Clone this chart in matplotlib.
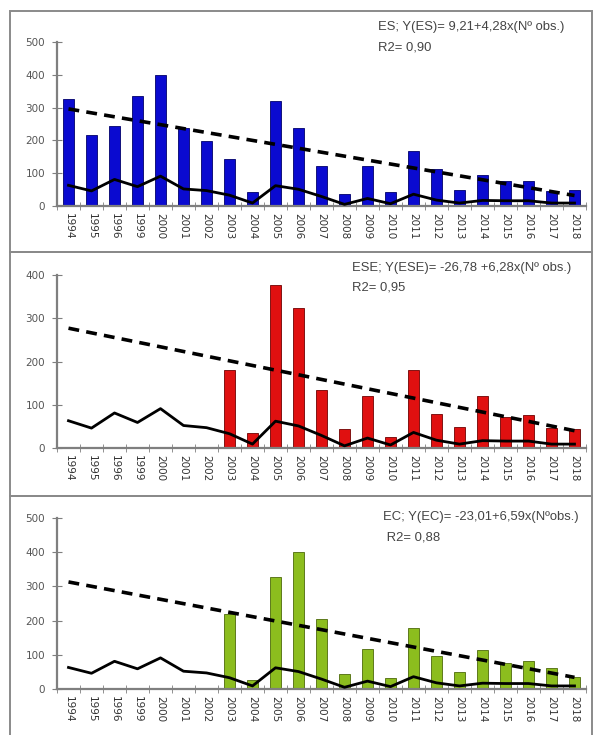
import matplotlib
matplotlib.use("Agg")
import matplotlib.pyplot as plt
from matplotlib.patches import Rectangle
import numpy as np

# data
years = ["1994", "1995", "1996", "1999", "2000", "2001", "2002", "2003",
         "2004", "2005", "2006", "2007", "2008", "2009", "2010", "2011",
         "2012", "2013", "2014", "2015", "2016", "2017", "2018"]

es = [326, 215, 245, 334, 398, 237, 197, 142, 44, 321, 239, 123, 37, 123,
      42, 167, 113, 50, 95, 76, 76, 47, 49]
ese = [0, 0, 0, 0, 0, 0, 0, 181, 35, 376, 324, 135, 45, 120, 26, 180, 79,
       49, 120, 71, 76, 47, 44]
ec = [0, 0, 0, 0, 0, 0, 0, 219, 27, 327, 401, 204, 43, 118, 32, 179, 96,
      49, 115, 76, 81, 61, 36]

# black reference line (same in the three charts)
ref_line = [63, 46, 81, 59, 91, 52, 47, 33, 9, 62, 51, 29, 5, 23, 7, 36, 18,
            9, 17, 16, 16, 9, 9]

# dashed trend, value at first and last year
es_trend = [296, 32]
ese_trend = [277, 40]
ec_trend = [313, 34]

es_text = ["ES; Y(ES)= 9,21+4,28x(Nº obs.)", "R2= 0,90"]
ese_text = ["ESE; Y(ESE)= -26,78 +6,28x(Nº obs.)", "R2= 0,95"]
ec_text = ["EC; Y(EC)= -23,01+6,59x(Nºobs.)", " R2= 0,88"]

W, H = 598, 735
fig = plt.figure(figsize=(W / 100, H / 100), dpi=100)


def fx(px):
    return px / W


def fy(py):
    return 1 - py / H


# panel frames
for top, bot in [(11, 252), (252, 496), (496, 745)]:
    fig.add_artist(Rectangle((fx(10), fy(bot)), fx(592) - fx(10), fy(top) - fy(bot),
                             transform=fig.transFigure, fill=False,
                             edgecolor="#8a8a8a", linewidth=1.4))

panels = [
    (es, es_trend, es_text, 500, "#0a0ad0", "#00006a", (42, 206), (378, 27)),
    (ese, ese_trend, ese_text, 400, "#e01010", "#700000", (275, 448), (352, 268)),
    (ec, ec_trend, ec_text, 500, "#8cbd1e", "#4d6a0a", (518, 689), (383, 517)),
]

x = np.arange(len(years))
gray = "#7f7f7f"

for vals, trend, txt, ymax, color, edge, (ytop, ybot), (tx, ty) in panels:
    ax = fig.add_axes([fx(57), fy(ybot), fx(586) - fx(57), fy(ytop) - fy(ybot)])
    ax.bar(x, vals, width=0.45, color=color, edgecolor=edge, linewidth=0.6, zorder=2)
    ax.plot(x, ref_line, color="black", linewidth=2, zorder=3)
    ax.plot([x[0], x[-1]], trend, color="black", linewidth=2.6,
            linestyle=(0, (3, 2)), zorder=3)

    ax.set_xlim(-0.5, len(years) - 0.5)
    ax.set_ylim(0, ymax)
    ax.set_yticks(np.arange(0, ymax + 1, 100))
    ax.set_xticks(x)
    ax.set_xticklabels(years, rotation=270, fontsize=7.5, color="#333333")
    ax.set_xticks(np.arange(-0.5, len(years), 1), minor=True)
    ax.tick_params(axis="x", which="major", length=0, pad=5)
    ax.tick_params(axis="x", which="minor", length=6, direction="inout", color=gray)
    ax.tick_params(axis="y", length=7, direction="inout", color=gray,
                   labelsize=7.5, labelcolor="#555555", pad=5)

    for s in ["top", "right"]:
        ax.spines[s].set_visible(False)
    for s in ["left", "bottom"]:
        ax.spines[s].set_color(gray)
        ax.spines[s].set_linewidth(1.6)
    ax.patch.set_alpha(0)

    fig.text(fx(tx), fy(ty), txt[0], fontsize=9.4, family="Liberation Sans",
             color="#444444", va="center")
    fig.text(fx(tx), fy(ty + 20), txt[1], fontsize=9.4, family="Liberation Sans",
             color="#444444", va="center")

fig.savefig("out.png", dpi=100)
